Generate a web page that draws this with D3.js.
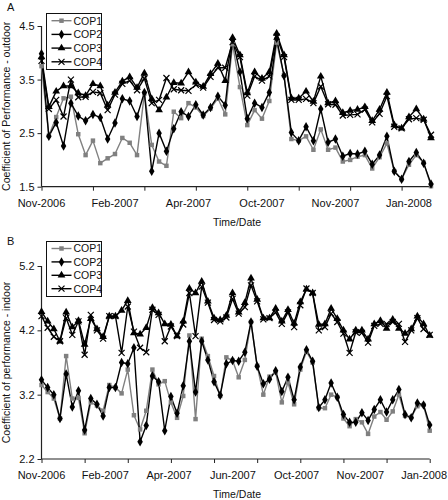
<!DOCTYPE html>
<html><head><meta charset="utf-8">
<script src="https://cdn.jsdelivr.net/npm/d3@7"></script>
<style>
body{margin:0;background:#fff;}
svg text{font-family:"Liberation Sans",Arial,sans-serif;fill:#111;}
</style></head>
<body><svg id="c" width="448" height="500"></svg>
<script>
// ---------- Data ----------
const seriesNames = ["COP1","COP2","COP3","COP4"];

const labelsA = ["Nov-2006","Feb-2007","Apr-2007","Oct-2007","Nov-2007","Jan-2008"];
const labelsB = ["Nov-2006","Feb-2007","Apr-2007","Jun-2007","Oct-2007","Nov-2007","Jan-2008"];
const yTicksA = [1.5,2.5,3.5,4.5];
const yTicksB = [2.2,3.2,4.2,5.2];

const A_COP1 = [3.75,2.45,2.8,3.15,3.18,2.48,2.09,2.36,1.94,2.03,2.11,2.41,2.32,2.09,3.24,2.28,1.97,1.89,2.9,2.78,3.06,2.98,2.82,2.96,3.15,2.85,4.16,3.36,2.65,2.93,2.77,3.1,4.19,3.58,2.39,2.36,2.44,2.19,2.57,2.19,2.23,1.97,2.0,2.06,2.09,1.84,2.05,2.31,1.79,1.64,1.91,2.09,1.95,1.51];
const A_COP2 = [3.98,2.44,2.7,2.26,3.06,2.82,2.73,2.85,2.79,2.39,2.69,3.14,3.1,2.81,3.26,1.79,2.5,2.16,2.58,2.9,2.81,3.03,2.84,2.98,3.19,3.02,4.25,3.64,2.77,3.06,2.98,3.26,4.27,3.57,2.51,2.36,2.62,2.36,2.95,2.33,2.39,2.07,2.12,2.11,2.16,1.92,2.09,2.44,1.79,1.64,1.97,2.14,1.94,1.55];
const A_COP3 = [3.92,2.99,3.28,3.38,3.38,3.25,3.2,3.42,3.38,3.02,3.26,3.47,3.55,3.35,3.62,3.14,2.93,3.17,3.44,3.43,3.64,3.45,3.37,3.61,3.8,3.48,4.28,3.96,3.25,3.64,3.52,3.64,4.36,3.96,3.15,3.15,3.28,3.09,3.56,3.06,3.1,2.88,2.92,2.94,2.99,2.73,2.94,3.26,2.65,2.59,2.8,2.95,2.76,2.41];
const A_COP4 = [3.85,2.95,3.12,2.81,3.5,3.17,3.18,3.27,3.25,2.93,3.22,3.42,3.48,3.3,3.52,3.06,3.12,3.53,3.32,3.3,3.29,3.4,3.35,3.55,3.72,3.72,4.2,3.92,3.2,3.56,3.48,3.56,4.3,3.92,3.12,3.12,3.14,3.06,3.37,3.04,3.03,2.83,2.84,2.85,2.94,2.7,2.86,3.19,2.62,2.59,2.76,2.78,2.75,2.47];

const B_COP1 = [3.35,3.24,3.14,2.83,3.8,3.14,3.15,2.6,3.08,3.03,2.95,3.35,3.31,3.22,3.59,2.88,2.66,2.95,3.59,3.36,3.41,3.08,2.84,3.18,4.12,2.82,4.07,3.8,3.49,3.18,3.78,3.73,3.47,3.74,4.33,3.65,3.2,3.48,3.55,3.08,3.39,3.05,3.59,3.87,3.7,2.99,2.99,3.2,3.16,2.83,2.71,2.82,2.77,2.59,2.86,2.93,2.81,2.94,3.2,2.87,2.85,3.02,3.04,2.64];
const B_COP2 = [3.43,3.31,3.2,2.83,3.52,3.01,3.26,2.65,3.14,3.05,2.87,3.31,3.31,3.7,3.68,3.93,2.47,2.72,3.49,3.4,2.64,3.17,2.91,3.34,4.03,3.24,4.03,3.74,3.4,3.19,3.68,3.73,3.72,3.86,4.33,3.64,3.37,3.44,3.57,3.25,3.47,3.12,3.63,3.9,3.72,3.0,3.12,3.38,3.16,2.89,2.77,2.77,2.92,2.8,2.97,3.12,2.93,3.12,3.28,2.89,2.84,3.07,3.04,2.73];
const B_COP3 = [4.49,4.34,4.22,4.03,4.48,4.25,4.35,3.98,4.38,4.22,4.1,4.42,4.42,4.51,4.66,4.16,4.14,4.24,4.55,4.47,4.3,4.29,4.11,4.34,4.85,4.78,4.96,4.65,4.39,4.36,4.43,4.78,4.48,4.63,5.01,4.68,4.39,4.39,4.54,4.34,4.52,4.31,4.64,4.84,4.78,4.29,4.3,4.54,4.38,4.2,4.06,4.2,4.2,4.06,4.3,4.35,4.23,4.37,4.23,4.15,4.22,4.42,4.3,4.12];
const B_COP4 = [4.42,4.24,4.1,4.03,4.39,4.13,4.34,3.82,4.44,4.2,4.07,4.42,4.42,3.85,4.57,4.18,3.93,3.86,4.52,4.44,4.03,4.26,4.11,4.29,4.78,4.11,4.88,4.63,4.36,4.34,4.4,4.69,4.46,4.56,4.9,4.65,4.37,4.39,4.48,4.3,4.48,4.25,4.59,4.85,4.78,4.2,4.25,4.46,4.33,4.15,3.85,4.17,4.16,4.01,4.27,4.3,4.3,4.33,4.3,4.02,4.2,4.39,4.22,4.13];

// ---------- Drawing ----------
const svg = d3.select("#c");
const styles = {
  COP1:{color:"#808080", sym:d3.symbolSquare, size:20},
  COP2:{color:"#000", sym:d3.symbolDiamond, size:26},
  COP3:{color:"#000", sym:d3.symbolTriangle, size:26},
  COP4:{color:"#000", sym:"x", size:0}
};

function marker(g, name, x, y){
  const st = styles[name];
  if(st.sym === "x"){
    g.append("path").attr("d",`M${x-3},${y-3}L${x+3},${y+3}M${x-3},${y+3}L${x+3},${y-3}`)
      .attr("stroke",st.color).attr("stroke-width",1.2).attr("fill","none");
  } else {
    g.append("path").attr("d",d3.symbol().type(st.sym).size(st.size)())
      .attr("transform",`translate(${x},${y})`).attr("fill",st.color);
  }
}

function panel(cfg){
  const g = svg.append("g");
  const n = cfg.series[0].length;
  const x = d3.scaleLinear().domain([0,n-1]).range([cfg.x0,cfg.x1]);
  const y = d3.scaleLinear().domain(cfg.yDomain).range([cfg.yBottom,cfg.yTop]);

  const ya = g.append("g").attr("transform",`translate(${cfg.x0},0)`)
    .call(d3.axisLeft(y).tickValues(cfg.yTicks).tickSize(4).tickPadding(3).tickFormat(d3.format(".1f")));
  const xt = d3.range(0,n,7);
  const xa = g.append("g").attr("transform",`translate(0,${cfg.yBottom})`)
    .call(d3.axisBottom(x).tickValues(xt).tickSize(4).tickFormat(""));
  [ya,xa].forEach(a=>{
    a.select(".domain").attr("stroke","#222").attr("stroke-width",1.2);
    a.selectAll(".tick line").attr("stroke","#222").attr("stroke-width",1);
    a.selectAll("text").attr("font-size",11).attr("fill","#111").attr("font-family","Liberation Sans, Arial, sans-serif");
  });
  xa.select(".domain").attr("d",`M${cfg.x0},0H${cfg.x1}`);
  ya.select(".domain").attr("d",`M0,${cfg.yBottom}V${cfg.yTop}`);

  cfg.labels.forEach((lab,i)=>{
    g.append("text").attr("x",x(i*cfg.labelStep)).attr("y",cfg.yBottom+20)
      .attr("text-anchor","middle").attr("font-size",11).text(lab);
  });
  g.append("text").attr("x",237).attr("y",cfg.yBottom+39).attr("text-anchor","middle")
    .attr("font-size",10.5).text("Time/Date");
  const cy = (cfg.yTop+cfg.yBottom)/2;
  g.append("text").attr("transform",`translate(10,${cy}) rotate(-90)`).attr("text-anchor","middle")
    .attr("font-size",10.5).text(cfg.ytitle);
  g.append("text").attr("x",7).attr("y",cfg.letterY).attr("font-size",11).text(cfg.letter);

  const line = d3.line().x((d,i)=>x(i)).y(d=>y(d));
  seriesNames.forEach((name,k)=>{
    const st = styles[name];
    g.append("path").datum(cfg.series[k]).attr("d",line).attr("fill","none")
      .attr("stroke",st.color).attr("stroke-width",1.4).attr("stroke-linejoin","round");
  });
  seriesNames.forEach((name,k)=>{
    const mg = g.append("g");
    cfg.series[k].forEach((d,i)=>marker(mg,name,x(i),y(d)));
  });

  const lg = g.append("g");
  lg.append("rect").attr("x",cfg.legX).attr("y",cfg.legY).attr("width",55).attr("height",cfg.legH)
    .attr("fill","#fff").attr("stroke","#111").attr("stroke-width",1);
  seriesNames.forEach((name,k)=>{
    const ly = cfg.legY + cfg.legFirst + k*cfg.legStep;
    const st = styles[name];
    lg.append("line").attr("x1",cfg.legX+5).attr("x2",cfg.legX+25).attr("y1",ly).attr("y2",ly)
      .attr("stroke",st.color).attr("stroke-width",1.4);
    marker(lg,name,cfg.legX+15,ly);
    lg.append("text").attr("x",cfg.legX+27).attr("y",ly+3.8).attr("font-size",10.5).text(name);
  });
}

panel({series:[A_COP1,A_COP2,A_COP3,A_COP4], x0:41.5, x1:431, yDomain:[1.5,4.5], yTop:26, yBottom:186.7,
  yTicks:yTicksA, labels:labelsA, labelStep:10, ytitle:"Coefficient of Performance - outdoor",
  letter:"A", letterY:11, legX:46.5, legY:13.5, legH:56, legFirst:7.2, legStep:13.7});
panel({series:[B_COP1,B_COP2,B_COP3,B_COP4], x0:41.5, x1:429.7, yDomain:[2.2,5.2], yTop:266, yBottom:459,
  yTicks:yTicksB, labels:labelsB, labelStep:10.35, ytitle:"Coefficient of performance - indoor",
  letter:"B", letterY:245, legX:46.5, legY:241.5, legH:55, legFirst:7, legStep:13.4});
</script></body></html>
